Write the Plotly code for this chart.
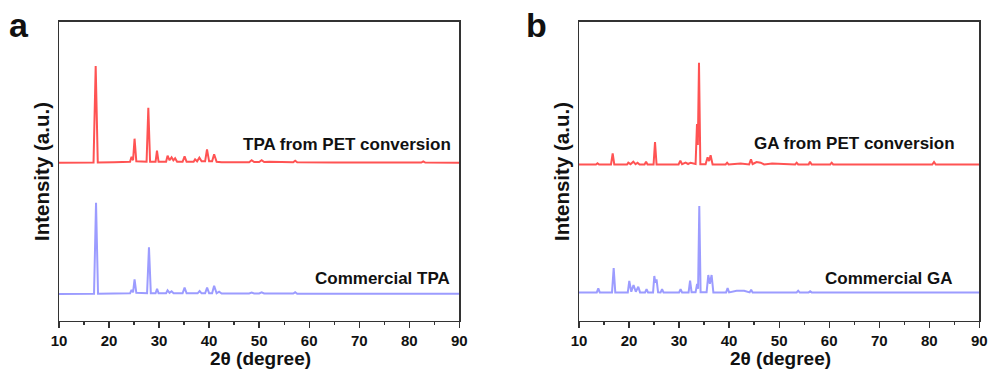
import plotly.graph_objects as go

# ---------------- data (intensity in a.u. above each trace's baseline) ----------------
# Panel a: TPA from PET conversion
tpa_pet_2theta = [10.0, 13.0, 16.9, 17.33, 17.75, 21.0, 24.2, 24.5, 24.8, 25.1, 25.45, 27.5, 27.85, 28.2,
                  29.3, 29.58, 29.9, 31.4, 31.7, 32.1, 32.5, 32.85, 33.2, 33.6, 34.7, 35.1, 35.5, 36.9,
                  37.2, 37.6, 38.05, 38.5, 39.2, 39.58, 40.0, 40.6, 41.0, 41.5, 42.5, 48.0, 48.5, 49.0,
                  50.0, 50.5, 51.0, 52.0, 56.8, 57.2, 57.6, 65.0, 75.0, 82.4, 82.8, 83.2, 90.0]
tpa_pet_int = [0.5, 0.8, 0.8, 97.3, 0.8, 1.0, 1.5, 6.6, 3.0, 24.6, 2.0, 1.5, 55.6, 1.5,
               1.5, 12.6, 1.5, 1.5, 7.6, 3.0, 6.0, 3.0, 5.0, 1.5, 1.5, 7.0, 1.5, 1.5,
               4.0, 2.0, 5.6, 2.0, 2.0, 14.0, 2.0, 2.0, 9.0, 1.5, 1.0, 1.0, 3.0, 1.2,
               1.2, 3.0, 1.2, 1.5, 1.0, 2.5, 1.0, 0.8, 0.8, 0.8, 2.0, 0.8, 0.6]

# Panel a: Commercial TPA
tpa_com_2theta = [10.0, 13.0, 17.0, 17.4, 17.8, 21.0, 24.2, 24.5, 24.8, 25.1, 25.45, 27.6, 27.98, 28.35,
                  29.3, 29.6, 29.9, 31.4, 31.7, 32.1, 32.5, 32.9, 34.7, 35.1, 35.5, 37.7, 38.1, 38.5,
                  39.2, 39.6, 40.0, 40.6, 41.0, 41.5, 42.0, 42.5, 48.0, 48.5, 49.0, 50.0, 50.5, 51.0,
                  56.8, 57.2, 57.6, 65.0, 75.0, 82.4, 82.8, 83.2, 90.0]
tpa_com_int = [0.4, 0.6, 0.6, 91.6, 0.6, 0.8, 1.0, 4.3, 2.0, 15.0, 1.5, 1.0, 47.0, 1.0,
               1.0, 5.6, 1.0, 1.0, 4.0, 1.5, 3.0, 1.0, 1.0, 6.6, 1.0, 1.0, 3.3, 1.0,
               1.0, 6.6, 1.0, 1.0, 8.6, 1.0, 2.6, 0.8, 0.8, 1.7, 0.8, 0.8, 2.0, 0.8,
               0.8, 2.0, 0.6, 0.6, 0.6, 0.6, 1.0, 0.6, 0.5]

# Panel b: GA from PET conversion
ga_pet_2theta = [10.0, 13.4, 13.7, 14.0, 16.4, 16.73, 17.05, 19.6, 19.85, 20.3, 20.85, 21.3, 21.7, 22.1,
                 23.1, 23.4, 23.7, 24.9, 25.19, 25.5, 29.9, 30.25, 30.6, 31.3, 31.8, 32.3, 33.3, 33.58,
                 33.75, 33.98, 34.25, 35.3, 35.7, 36.0, 36.3, 36.7, 39.3, 39.6, 39.9, 41.5, 42.3, 44.0,
                 44.37, 44.7, 45.5, 46.3, 47.0, 48.6, 53.2, 53.5, 53.8, 55.9, 56.16, 56.5, 60.2, 60.5,
                 60.8, 70.0, 80.6, 80.95, 81.3, 90.0]
ga_pet_int = [0.5, 0.5, 1.7, 0.5, 0.5, 11.7, 0.5, 0.5, 2.3, 0.8, 3.3, 0.8, 2.3, 0.5,
              0.5, 3.3, 0.5, 0.5, 23.0, 0.5, 0.5, 4.3, 0.8, 2.3, 1.0, 2.3, 1.0, 41.0,
              20.0, 102.3, 0.8, 0.8, 7.7, 4.0, 9.7, 0.5, 0.5, 2.3, 0.5, 1.5, 1.5, 0.5,
              5.7, 1.0, 3.0, 2.3, 0.5, 1.5, 0.5, 2.3, 0.5, 0.5, 3.3, 0.5, 0.5, 2.3,
              0.5, 0.5, 0.5, 3.0, 0.5, 0.4]

# Panel b: Commercial GA
ga_com_2theta = [10.0, 13.55, 13.86, 14.15, 16.6, 16.93, 17.25, 19.75, 20.05, 20.45, 20.9, 21.35, 21.85, 22.2,
                 23.2, 23.5, 23.8, 24.8, 25.05, 25.25, 25.5, 25.8, 26.3, 26.6, 26.9, 30.0, 30.3, 30.6,
                 31.9, 32.2, 32.5, 33.3, 33.6, 33.8, 34.04, 34.3, 35.5, 35.84, 36.15, 36.5, 36.85, 39.4,
                 39.7, 40.0, 41.5, 43.0, 44.1, 44.4, 44.7, 53.5, 53.8, 54.1, 55.9, 56.2, 56.5, 70.0, 90.0]
ga_com_int = [0.3, 0.3, 4.4, 0.3, 0.3, 24.7, 0.3, 0.3, 11.7, 1.0, 7.7, 1.0, 6.0, 0.3,
              0.3, 3.4, 0.3, 0.3, 16.7, 10.0, 13.4, 0.5, 0.3, 3.4, 0.3, 0.3, 3.4, 0.3,
              0.3, 12.0, 0.5, 0.5, 8.7, 4.0, 86.7, 0.5, 0.5, 17.7, 9.0, 17.7, 0.3, 0.3,
              4.7, 0.3, 2.0, 2.0, 0.3, 3.0, 0.3, 0.3, 2.0, 0.3, 0.3, 1.4, 0.3, 0.3, 0.3]

# stacking offsets (a.u.)
tpa_pet_offset = 157.7
tpa_com_offset = 26.7
ga_pet_offset = 156.0
ga_com_offset = 28.3

labels_a = ["TPA from PET conversion", "Commercial TPA"]
labels_b = ["GA from PET conversion", "Commercial GA"]
x_ticks = [10, 20, 30, 40, 50, 60, 70, 80, 90]

RED = "#ff5353"
BLUE = "#9c9cff"
FONT = "Liberation Sans, Arial, sans-serif"

fig = go.Figure()

def add(xs, ys, off, color, xa, ya):
    fig.add_trace(go.Scatter(x=xs, y=[v + off for v in ys], mode="lines",
                             line=dict(color=color, width=2), xaxis=xa, yaxis=ya,
                             hoverinfo="skip", showlegend=False))

add(tpa_pet_2theta, tpa_pet_int, tpa_pet_offset, RED, "x", "y")
add(tpa_com_2theta, tpa_com_int, tpa_com_offset, BLUE, "x", "y")
add(ga_pet_2theta, ga_pet_int, ga_pet_offset, RED, "x2", "y2")
add(ga_com_2theta, ga_com_int, ga_com_offset, BLUE, "x2", "y2")

# The page's body margin is removed (post_script below), so the figure fills the window.
W, H = 992, 374

def px(x):
    return x / W

def py(y):
    return 1 - y / H

ydom = [py(321), py(21.5)]
xdom_a = [px(59), px(459.3)]
xdom_b = [px(579), px(979.3)]

xaxis_common = dict(range=[10, 90], tickvals=x_ticks, ticks="outside", ticklen=6, tickwidth=1.3,
                    tickcolor="#333", showline=True, linecolor="#333", linewidth=1.3, mirror=True,
                    showgrid=False, zeroline=False, automargin=False,
                    tickfont=dict(family=FONT, size=15, color="#111", weight="bold"),
                    minor=dict(dtick=5, tick0=10, ticks="outside", ticklen=3, tickwidth=1.3, tickcolor="#333"))
yaxis_common = dict(range=[0, 299.5], showticklabels=False, ticks="", showline=True, linecolor="#333",
                    linewidth=1.3, mirror=True, showgrid=False, zeroline=False, automargin=False)

fig.update_layout(
    template="none",
    width=W, height=H, margin=dict(l=0, r=0, t=0, b=0, pad=0),
    paper_bgcolor="white", plot_bgcolor="white",
    hovermode=False,
    xaxis=dict(domain=xdom_a, anchor="y", **xaxis_common),
    yaxis=dict(domain=ydom, anchor="x", **yaxis_common),
    xaxis2=dict(domain=xdom_b, anchor="y2", **xaxis_common),
    yaxis2=dict(domain=ydom, anchor="x2", **yaxis_common),
)

def ann(text, x, y, xref, yref, size, xanchor="center", yanchor="middle", angle=0):
    fig.add_annotation(text=text, x=x, y=y, xref=xref, yref=yref, showarrow=False,
                       xanchor=xanchor, yanchor=yanchor, textangle=angle,
                       font=dict(family=FONT, size=size, color="#111", weight="bold"))

# trace labels
ann(labels_a[0], 88.8, 177, "x", "y", 17, xanchor="right")
ann(labels_a[1], 88.5, 42.7, "x", "y", 17, xanchor="right")
ann(labels_b[0], 85.5, 178, "x2", "y2", 17, xanchor="right")
ann(labels_b[1], 85.1, 42.7, "x2", "y2", 17, xanchor="right")

# axis titles
for cx in (260, 780):
    ann("2θ (degree)", px(cx), py(358), "paper", "paper", 19)
for cx in (41, 561):
    ann("Intensity (a.u.)", px(cx), py(172), "paper", "paper", 20.5, angle=-90)

# panel letters
ann("a", px(19), py(24.5), "paper", "paper", 34)
ann("b", px(536), py(24.5), "paper", "paper", 34)

fig.write_html("out.html", config={"displayModeBar": False, "staticPlot": True},
               post_script="document.body.style.margin='0';document.body.style.overflow='hidden';")
